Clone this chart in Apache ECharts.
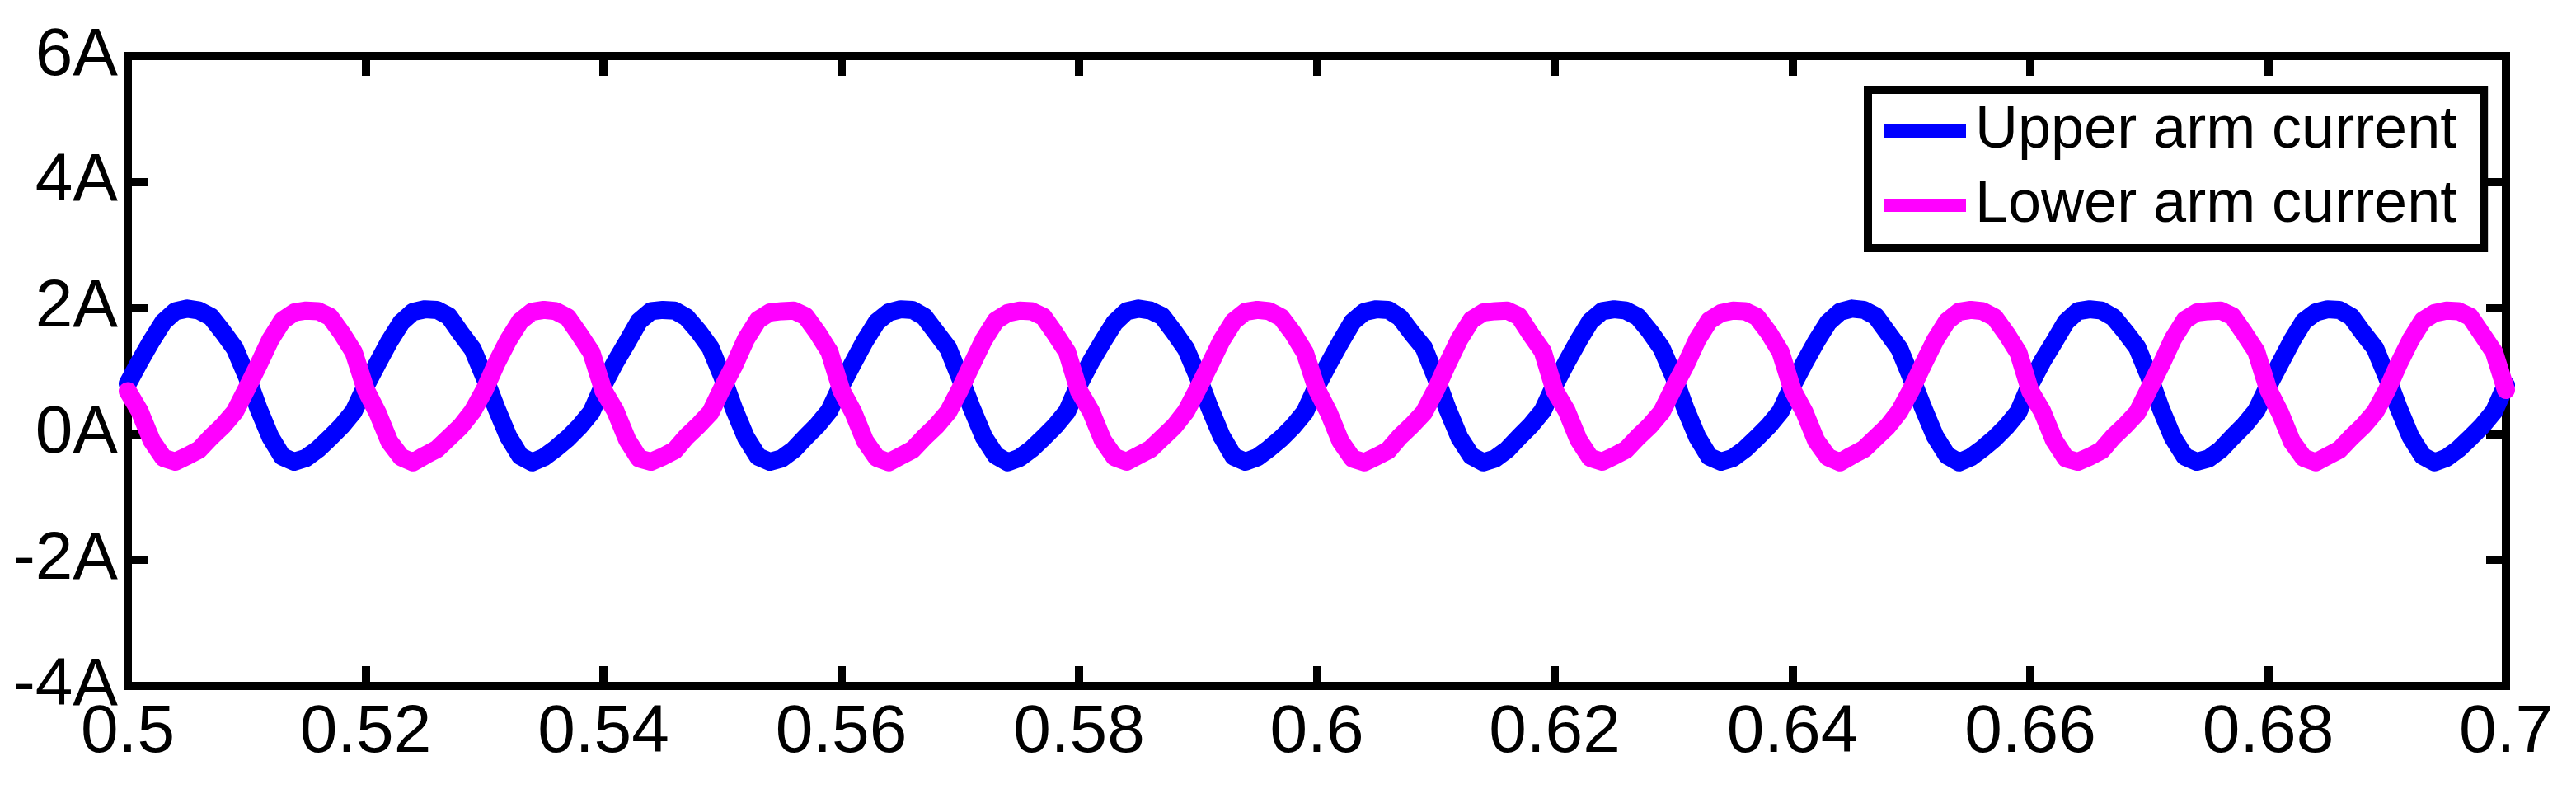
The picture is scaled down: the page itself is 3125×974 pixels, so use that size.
<!DOCTYPE html>
<html>
<head>
<meta charset="utf-8">
<script src="https://cdn.jsdelivr.net/npm/echarts@6/dist/echarts.min.js"></script>
<style>
  html, body { margin: 0; padding: 0; background: #fff; }
  #chart { width: 3125px; height: 974px; }
</style>
</head>
<body>
<div id="chart"></div>
<script>
// sampling grid: one reading every 1 ms from 0.5 s to 0.7 s
const tStart = 0.5;
const tStep = 0.001;

const seriesNames = ['Upper arm current', 'Lower arm current'];

// values (A), one per ms
const upperArm = [
  0.80, 1.15, 1.48, 1.78, 1.95, 1.99, 1.96, 1.86, 1.62, 1.36, 0.92, 0.40, -0.05, -0.36, -0.44, -0.38, -0.24, -0.06, 0.13, 0.36,
  0.76, 1.12, 1.47, 1.77, 1.94, 1.98, 1.97, 1.87, 1.60, 1.35, 0.90, 0.41, -0.04, -0.35, -0.45, -0.37, -0.23, -0.07, 0.12, 0.35,
  0.78, 1.14, 1.46, 1.79, 1.95, 1.97, 1.96, 1.85, 1.63, 1.37, 0.91, 0.39, -0.06, -0.36, -0.44, -0.39, -0.25, -0.05, 0.14, 0.37,
  0.77, 1.13, 1.48, 1.78, 1.93, 1.98, 1.97, 1.86, 1.61, 1.36, 0.89, 0.40, -0.05, -0.34, -0.45, -0.38, -0.24, -0.06, 0.13, 0.36,
  0.79, 1.15, 1.47, 1.77, 1.95, 1.99, 1.96, 1.87, 1.62, 1.35, 0.91, 0.41, -0.04, -0.36, -0.44, -0.37, -0.23, -0.07, 0.12, 0.35,
  0.76, 1.12, 1.46, 1.78, 1.94, 1.98, 1.97, 1.85, 1.60, 1.37, 0.90, 0.39, -0.06, -0.35, -0.45, -0.39, -0.25, -0.05, 0.14, 0.37,
  0.78, 1.14, 1.48, 1.79, 1.95, 1.98, 1.96, 1.86, 1.63, 1.36, 0.92, 0.40, -0.05, -0.36, -0.44, -0.38, -0.24, -0.06, 0.13, 0.36,
  0.77, 1.13, 1.47, 1.77, 1.94, 1.99, 1.97, 1.87, 1.61, 1.35, 0.89, 0.41, -0.04, -0.34, -0.45, -0.37, -0.23, -0.07, 0.12, 0.35,
  0.79, 1.15, 1.46, 1.78, 1.95, 1.98, 1.96, 1.85, 1.62, 1.37, 0.91, 0.39, -0.06, -0.36, -0.44, -0.39, -0.25, -0.05, 0.14, 0.37,
  0.76, 1.12, 1.48, 1.79, 1.93, 1.98, 1.97, 1.86, 1.60, 1.36, 0.90, 0.40, -0.05, -0.35, -0.45, -0.38, -0.24, -0.06, 0.13, 0.36,
  0.78
];

const lowerArm = [
  0.68, 0.36, -0.10, -0.38, -0.44, -0.35, -0.25, -0.05, 0.13, 0.35, 0.72, 1.10, 1.50, 1.80, 1.93, 1.96, 1.95, 1.86, 1.60, 1.30,
  0.71, 0.34, -0.12, -0.37, -0.45, -0.34, -0.24, -0.06, 0.12, 0.36, 0.70, 1.12, 1.49, 1.79, 1.94, 1.97, 1.95, 1.85, 1.58, 1.29,
  0.69, 0.37, -0.09, -0.39, -0.44, -0.36, -0.26, -0.04, 0.14, 0.34, 0.73, 1.09, 1.51, 1.81, 1.93, 1.95, 1.96, 1.87, 1.61, 1.31,
  0.70, 0.35, -0.11, -0.38, -0.45, -0.35, -0.25, -0.05, 0.13, 0.35, 0.71, 1.11, 1.50, 1.80, 1.92, 1.96, 1.95, 1.86, 1.59, 1.30,
  0.68, 0.36, -0.10, -0.37, -0.44, -0.34, -0.24, -0.06, 0.12, 0.36, 0.72, 1.10, 1.49, 1.79, 1.94, 1.97, 1.95, 1.85, 1.60, 1.29,
  0.71, 0.34, -0.12, -0.39, -0.45, -0.36, -0.26, -0.04, 0.14, 0.34, 0.70, 1.12, 1.51, 1.81, 1.93, 1.95, 1.96, 1.87, 1.58, 1.31,
  0.69, 0.37, -0.09, -0.38, -0.44, -0.35, -0.25, -0.05, 0.13, 0.35, 0.73, 1.09, 1.50, 1.80, 1.92, 1.96, 1.95, 1.86, 1.61, 1.30,
  0.70, 0.35, -0.11, -0.37, -0.45, -0.34, -0.24, -0.06, 0.12, 0.36, 0.71, 1.11, 1.49, 1.79, 1.94, 1.97, 1.95, 1.85, 1.59, 1.29,
  0.68, 0.36, -0.10, -0.39, -0.44, -0.36, -0.26, -0.04, 0.14, 0.34, 0.72, 1.10, 1.51, 1.81, 1.93, 1.95, 1.96, 1.87, 1.60, 1.31,
  0.71, 0.34, -0.12, -0.38, -0.45, -0.35, -0.25, -0.05, 0.13, 0.35, 0.70, 1.12, 1.50, 1.80, 1.92, 1.96, 1.95, 1.86, 1.58, 1.30,
  0.70
];

// axis ticks
const xMin = 0.5, xMax = 0.7, xStep = 0.02;
const yMin = -4, yMax = 6, yStep = 2;

function pairs(vals) {
    return vals.map(function (v, i) {
        return [+(tStart + i * tStep).toFixed(3), v];
    });
}

const font = 'Liberation Sans, Arial, sans-serif';
const black = '#000';
const frameLine = { show: true, onZero: false, lineStyle: { color: black, width: 10, cap: 'square' } };
const tick = { show: true, inside: true, length: 24, lineStyle: { color: black, width: 10 } };

const chart = echarts.init(document.getElementById('chart'));
chart.setOption({
    animation: false,
    backgroundColor: '#fff',
    grid: { left: 155, right: 85, top: 68, bottom: 142, containLabel: false },
    legend: {
        data: seriesNames,
        orient: 'vertical',
        left: 2266,
        top: 109,
        padding: [14, 33, 16, 19],
        itemGap: 18,
        itemWidth: 100,
        itemHeight: 16,
        icon: 'rect',
        backgroundColor: '#fff',
        borderColor: black,
        borderWidth: 10,
        borderRadius: 0,
        textStyle: { fontFamily: font, fontSize: 72, lineHeight: 72, color: black, padding: [0, 0, 0, 6] }
    },
    xAxis: [{
        type: 'value', min: xMin, max: xMax, interval: xStep,
        axisLine: frameLine, axisTick: tick, splitLine: { show: false },
        axisLabel: { fontFamily: font, fontSize: 82, color: black, margin: 16 }
    }, {
        type: 'value', position: 'top', min: xMin, max: xMax, interval: xStep,
        axisLine: frameLine, axisTick: tick, splitLine: { show: false },
        axisLabel: { show: false }
    }],
    yAxis: [{
        type: 'value', min: yMin, max: yMax, interval: yStep,
        axisLine: frameLine, axisTick: tick, splitLine: { show: false },
        axisLabel: {
            fontFamily: font, fontSize: 82, color: black, margin: 12,
            formatter: function (v) { return v + 'A'; }
        }
    }, {
        type: 'value', position: 'right', min: yMin, max: yMax, interval: yStep,
        axisLine: frameLine, axisTick: tick, splitLine: { show: false },
        axisLabel: { show: false }
    }],
    series: [{
        name: seriesNames[0],
        type: 'line',
        data: pairs(upperArm),
        showSymbol: false,
        symbol: 'none',
        color: '#0000ff',
        lineStyle: { color: '#0000ff', width: 22, cap: 'round', join: 'round' },
        z: 3
    }, {
        name: seriesNames[1],
        type: 'line',
        data: pairs(lowerArm),
        showSymbol: false,
        symbol: 'none',
        color: '#ff00ff',
        lineStyle: { color: '#ff00ff', width: 22, cap: 'round', join: 'round' },
        z: 4
    }]
});
</script>
</body>
</html>
